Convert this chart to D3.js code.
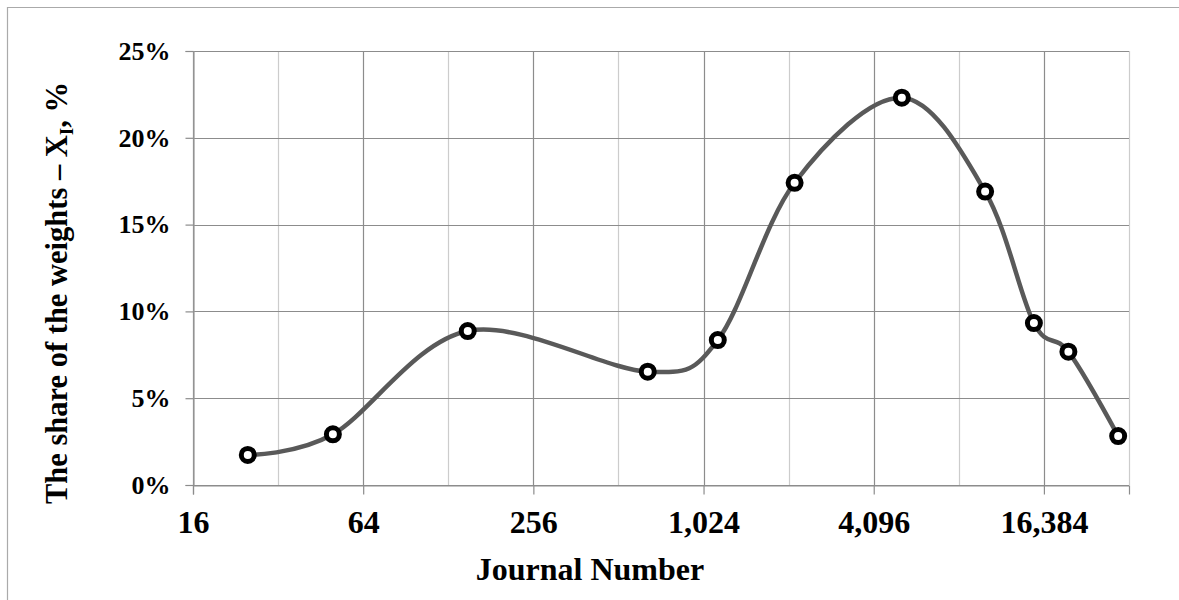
<!DOCTYPE html>
<html>
<head>
<meta charset="utf-8">
<script src="https://cdn.jsdelivr.net/npm/d3@7"></script>
<style>
  body { margin: 0; background: #fff; }
  text { font-family: "Liberation Serif", "Times New Roman", serif; font-weight: bold; fill: #000; }
</style>
</head>
<body>
<svg id="chart" width="1179" height="600"></svg>
<script>
// journal number (x, log2 axis) and share of weights (y, %)
const journalNumber = [25, 50, 150, 650, 1150, 2150, 5150, 10150, 15100, 20000, 30000];
const shareOfWeights = [1.73, 2.92, 8.87, 6.53, 8.35, 17.41, 22.31, 16.90, 9.33, 7.68, 2.82];
const xMajorTicks = [16, 64, 256, 1024, 4096, 16384];
const xMinorTicks = [32, 128, 512, 2048, 8192, 32768];
const yTicks = [0, 5, 10, 15, 20, 25];

const svg = d3.select('#chart');
const plot = { left: 193, top: 51, right: 1129, bottom: 485 };

const x = d3.scaleLog().base(2).domain([16, 32768]).range([plot.left, plot.right]);
const y = d3.scaleLinear().domain([0, 25]).range([plot.bottom, plot.top]);

// outer chart border (only top and left are visible)
svg.append('path')
  .attr('d', 'M7.5,600 V7.5 H1179')
  .attr('fill', 'none').attr('stroke', '#aaa').attr('stroke-width', 1.2);

// minor vertical gridlines
svg.append('g').selectAll('line').data(xMinorTicks).join('line')
  .attr('x1', d => Math.round(x(d)) + 0.5).attr('x2', d => Math.round(x(d)) + 0.5)
  .attr('y1', plot.top).attr('y2', plot.bottom)
  .attr('stroke', '#cccccc').attr('stroke-width', 1.2);

// major vertical gridlines
svg.append('g').selectAll('line').data(xMajorTicks).join('line')
  .attr('x1', d => Math.round(x(d)) + 0.5).attr('x2', d => Math.round(x(d)) + 0.5)
  .attr('y1', plot.top).attr('y2', plot.bottom)
  .attr('stroke', '#8c8c8c').attr('stroke-width', 1.2);

// horizontal gridlines
svg.append('g').selectAll('line').data(yTicks).join('line')
  .attr('x1', plot.left).attr('x2', plot.right)
  .attr('y1', d => Math.round(y(d)) + 0.5).attr('y2', d => Math.round(y(d)) + 0.5)
  .attr('stroke', '#8c8c8c').attr('stroke-width', 1.2);

// y axis
const yAxis = svg.append('g')
  .attr('transform', `translate(${plot.left + 0.5},0)`)
  .call(d3.axisLeft(y).tickValues(yTicks).tickSize(8).tickPadding(15).tickFormat(d => d + '%'));
yAxis.select('.domain').attr('stroke', '#999').attr('stroke-width', 1.2);
yAxis.selectAll('.tick line').attr('stroke', '#8c8c8c').attr('stroke-width', 1.2);
yAxis.selectAll('.tick text')
  .style('font-family', '"Liberation Serif", serif').style('font-weight', 'bold')
  .style('font-size', '26px').attr('fill', '#000');

// x axis
const xAxis = svg.append('g')
  .attr('transform', `translate(0,${plot.bottom + 0.5})`)
  .call(d3.axisBottom(x).tickValues(xMajorTicks).tickSize(9).tickPadding(16).tickFormat(d3.format(',')));
xAxis.select('.domain').attr('stroke', '#8c8c8c').attr('stroke-width', 1.2);
xAxis.selectAll('.tick line').attr('stroke', '#8c8c8c').attr('stroke-width', 1.2);
xAxis.selectAll('.tick text')
  .style('font-family', '"Liberation Serif", serif').style('font-weight', 'bold')
  .style('font-size', '32px').attr('fill', '#000');

// smoothed line
const points = journalNumber.map((d, i) => [x(d), y(shareOfWeights[i])]);
svg.append('path')
  .datum(points)
  .attr('d', d3.line().curve(d3.curveCatmullRom.alpha(0)))
  .attr('fill', 'none').attr('stroke', '#595959').attr('stroke-width', 4.5);

// markers
svg.append('g').selectAll('circle').data(points).join('circle')
  .attr('cx', d => d[0]).attr('cy', d => d[1]).attr('r', 6.5)
  .attr('fill', '#fff').attr('stroke', '#000').attr('stroke-width', 5);

// axis titles
svg.append('text')
  .attr('x', 590).attr('y', 580)
  .attr('text-anchor', 'middle').style('font-size', '32px')
  .text('Journal Number');

const yt = svg.append('text')
  .attr('transform', 'translate(67,293) rotate(-90)')
  .attr('text-anchor', 'middle').style('font-size', '30.5px');
yt.append('tspan').text('The share of the weights – X');
yt.append('tspan').attr('dy', 6).style('font-size', '19px').text('I');
yt.append('tspan').attr('dy', -6).text(', %');
</script>
</body>
</html>
